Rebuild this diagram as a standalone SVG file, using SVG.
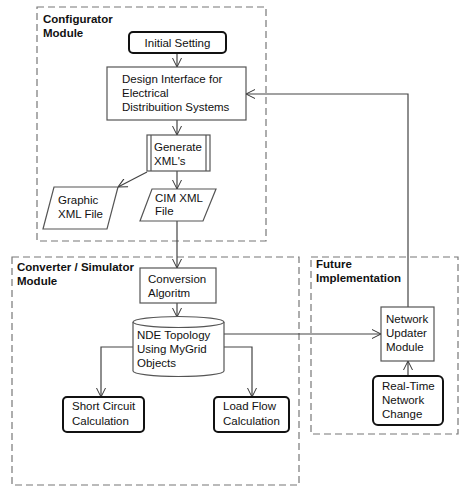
<svg xmlns="http://www.w3.org/2000/svg" width="474" height="493" viewBox="0 0 474 493">
<defs>
<marker id="arr" viewBox="0 0 10 10" refX="10" refY="5" markerWidth="10" markerHeight="10" markerUnits="userSpaceOnUse" orient="auto">
<path d="M1,0.5 L10,5 L1,9.5" fill="none" stroke="#333" stroke-width="1"/>
</marker>
</defs>
<style>
text{font-family:"Liberation Sans",Arial,sans-serif;font-size:11.5px;fill:#111}
.t{font-weight:bold}
.grp{fill:none;stroke:#777;stroke-width:1.2;stroke-dasharray:7,4}
.box{fill:#fff;stroke:#555;stroke-width:1.2}
.rbox{fill:#fff;stroke:#111;stroke-width:2}
.c{fill:none;stroke:#444;stroke-width:1.2}
</style>
<rect width="474" height="493" fill="#fff"/>
<g id="configurator">
<rect class="grp" x="37" y="7" width="229" height="234"/>
<text class="t" x="43" y="23">Configurator</text>
<text class="t" x="43" y="37">Module</text>
</g>
<g id="converter">
<rect class="grp" x="12" y="257" width="287" height="228"/>
<text class="t" x="17" y="271">Converter / Simulator</text>
<text class="t" x="17" y="285">Module</text>
</g>
<g id="future">
<rect class="grp" x="311" y="257" width="147" height="177"/>
<text class="t" x="316" y="268">Future</text>
<text class="t" x="316" y="282">Implementation</text>
</g>
<g id="connectors">
<line class="c" x1="177" y1="53" x2="177" y2="67" marker-end="url(#arr)"/>
<line class="c" x1="177" y1="120" x2="177" y2="135" marker-end="url(#arr)"/>
<line class="c" x1="147" y1="172" x2="118" y2="187" marker-end="url(#arr)"/>
<line class="c" x1="177" y1="171" x2="177" y2="189" marker-end="url(#arr)"/>
<line class="c" x1="177" y1="221" x2="177" y2="268" marker-end="url(#arr)"/>
<line class="c" x1="177" y1="303" x2="177" y2="317" marker-end="url(#arr)"/>
<polyline class="c" points="133,347 101,347 101,397" marker-end="url(#arr)"/>
<polyline class="c" points="224,347 252,347 252,397" marker-end="url(#arr)"/>
<line class="c" x1="224" y1="334" x2="381" y2="334" marker-end="url(#arr)"/>
<line class="c" x1="408" y1="376" x2="408" y2="361" marker-end="url(#arr)"/>
<polyline class="c" points="408,307 408,94 246,94" marker-end="url(#arr)"/>
</g>
<g id="initial-setting">
<rect class="rbox" x="129" y="32" width="97" height="21" rx="4"/>
<text x="177.5" y="47" text-anchor="middle">Initial Setting</text>
</g>
<g id="design-interface">
<rect class="box" x="107" y="67" width="139" height="53"/>
<text x="122" y="83">Design Interface for</text>
<text x="122" y="97">Electrical</text>
<text x="122" y="111">Distribuition Systems</text>
</g>
<g id="generate-xml">
<rect class="box" x="147" y="135" width="63" height="36"/>
<line class="box" x1="151" y1="135" x2="151" y2="171"/>
<line class="box" x1="206" y1="135" x2="206" y2="171"/>
<text x="154" y="151">Generate</text>
<text x="154" y="165">XML's</text>
</g>
<g id="graphic-xml">
<polygon class="box" points="54,187 118,187 107,229 43,229"/>
<text x="58" y="204">Graphic</text>
<text x="58" y="218">XML File</text>
</g>
<g id="cim-xml">
<polygon class="box" points="152,189 216,189 203,221 140,221"/>
<text x="155" y="202">CIM XML</text>
<text x="155" y="215">File</text>
</g>
<g id="conversion">
<rect class="box" x="140" y="268" width="76" height="35"/>
<text x="148" y="283">Conversion</text>
<text x="148" y="297">Algoritm</text>
</g>
<g id="nde-topology">
<path class="box" d="M133,322 L133,371 A45.5,5.5 0 0 0 224,371 L224,322"/>
<ellipse class="box" cx="178.5" cy="322" rx="45.5" ry="5.5"/>
<text x="137" y="339">NDE Topology</text>
<text x="137" y="353">Using MyGrid</text>
<text x="137" y="367">Objects</text>
</g>
<g id="short-circuit">
<rect class="rbox" x="63" y="397" width="81" height="35" rx="4"/>
<text x="72" y="410">Short Circuit</text>
<text x="72" y="425">Calculation</text>
</g>
<g id="load-flow">
<rect class="rbox" x="214" y="397" width="75" height="35" rx="4"/>
<text x="223" y="410">Load Flow</text>
<text x="223" y="425">Calculation</text>
</g>
<g id="network-updater">
<rect class="box" x="381" y="307" width="53" height="54"/>
<text x="386" y="323">Network</text>
<text x="386" y="337">Updater</text>
<text x="386" y="351">Module</text>
</g>
<g id="real-time">
<rect class="rbox" x="373" y="376" width="70" height="49" rx="5"/>
<text x="382" y="390">Real-Time</text>
<text x="382" y="404">Network</text>
<text x="382" y="418">Change</text>
</g>
</svg>
